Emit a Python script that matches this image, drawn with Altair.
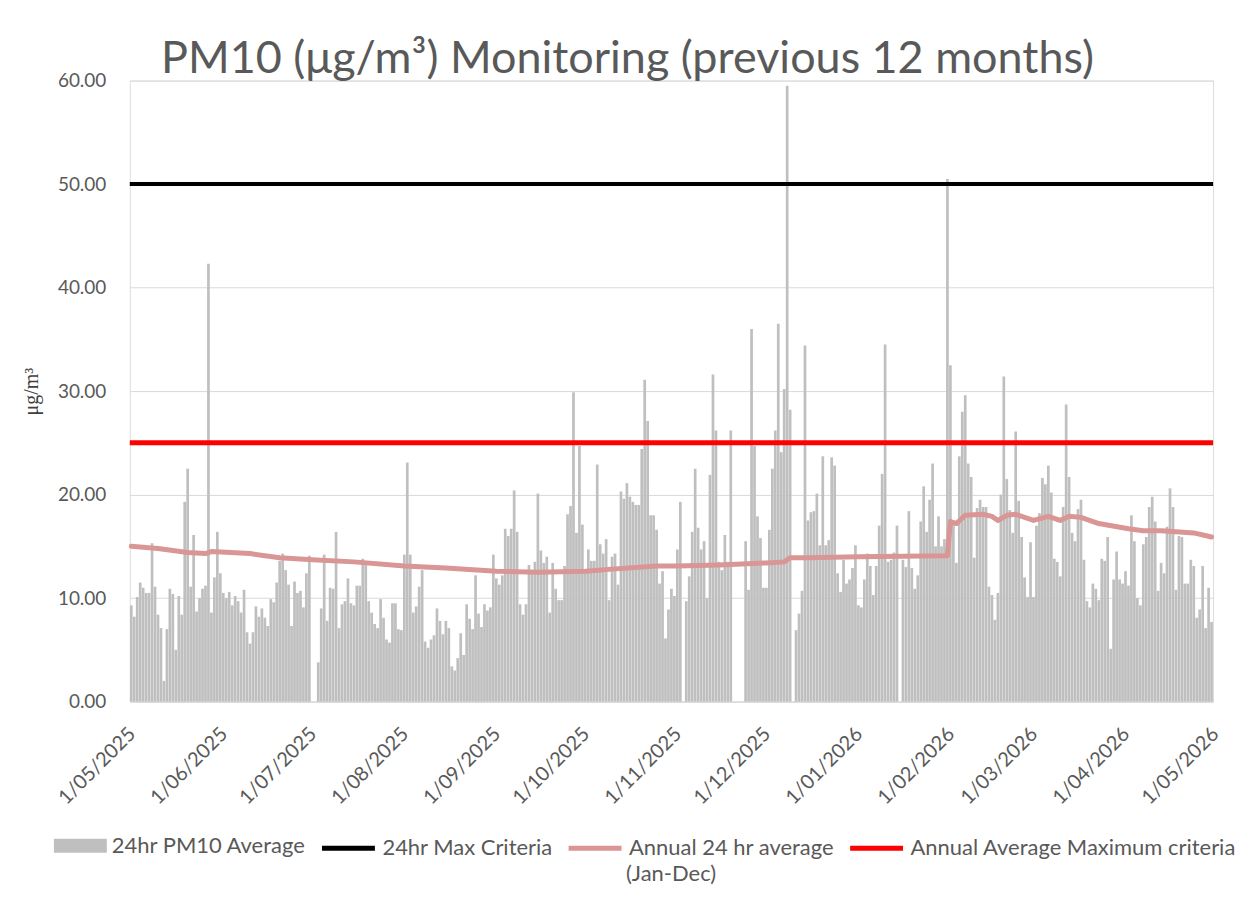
import altair as alt
import pandas as pd

# ---- daily 24hr PM10 averages (ug/m3), by month ----
may_2025 = [9.3, 8.2, 10.1, 11.5, 11.0, 10.5, 10.5, 15.3, 11.1, 8.4, 7.1, 2.0, 7.0, 10.9, 10.4, 5.0,
            10.2, 8.4, 19.3, 22.5, 11.1, 16.1, 8.7, 10.0, 10.9, 11.2, 42.3, 8.6, 12.0, 16.4, 12.4]
jun_2025 = [10.5, 10.0, 10.6, 9.3, 10.2, 9.7, 8.6, 10.8, 6.7, 5.6, 6.7, 9.2, 8.2, 9.0, 8.1, 7.3,
            9.9, 9.6, 11.5, 13.6, 14.3, 12.7, 11.3, 7.3, 11.6, 10.5, 10.7, 9.1, 12.4, 14.1]
jul_2025 = [0, 0, 3.8, 9.0, 14.2, 7.8, 11.0, 10.9, 16.4, 7.1, 9.4, 9.7, 11.9, 9.5, 9.3, 11.2,
            11.2, 13.8, 13.6, 9.7, 8.6, 7.5, 7.1, 9.9, 8.1, 6.0, 5.7, 9.5, 9.5, 7.0, 6.9]
aug_2025 = [14.2, 23.1, 14.2, 8.6, 9.2, 11.1, 12.7, 5.8, 5.2, 6.0, 6.4, 9.0, 7.8, 6.5, 7.8, 7.1,
            3.4, 3.0, 4.2, 6.6, 4.5, 9.4, 8.0, 7.0, 12.2, 8.5, 7.2, 9.4, 8.8, 9.1, 14.2]
sep_2025 = [11.9, 11.3, 12.2, 16.7, 16.0, 16.7, 20.4, 16.4, 9.4, 8.4, 9.4, 13.2, 12.7, 13.5, 20.1,
            14.6, 13.4, 14.0, 8.6, 13.4, 10.9, 9.8, 9.8, 13.1, 18.1, 18.9, 29.9, 16.3, 24.7, 17.1]
oct_2025 = [12.5, 14.7, 13.6, 13.6, 22.9, 15.2, 14.3, 15.7, 9.8, 14.0, 14.3, 11.3, 20.3, 19.6, 21.1,
            19.8, 19.3, 19.0, 19.0, 24.4, 31.1, 27.1, 18.0, 18.0, 16.6, 11.4, 12.6, 6.1, 8.9, 10.9, 10.2]
nov_2025 = [14.7, 19.3, 0, 9.7, 12.1, 16.4, 22.5, 16.8, 14.7, 15.5, 10.0, 21.9, 31.6, 26.2, 13.5,
            12.7, 16.1, 13.5, 26.2, 0, 0, 0, 0, 15.5, 10.8, 36.0, 24.7, 17.9, 15.8, 11.0]
dec_2025 = [11.0, 16.6, 22.5, 26.2, 36.5, 24.1, 30.2, 59.5, 28.2, 0, 6.9, 8.5, 10.7, 34.4, 17.5,
            18.3, 18.4, 20.1, 15.1, 23.7, 15.1, 15.6, 23.6, 22.8, 12.4, 10.6, 13.7, 11.4, 11.8, 12.9, 15.1]
jan_2026 = [9.3, 9.1, 11.8, 14.3, 13.1, 10.3, 13.1, 17.0, 22.0, 34.5, 13.5, 13.7, 14.4, 17.0, 0,
            13.7, 13.0, 18.4, 12.9, 10.9, 12.2, 17.4, 20.8, 16.4, 19.5, 23.0, 15.0, 17.9, 15.0, 15.7, 50.5]
feb_2026 = [32.5, 17.5, 13.4, 23.7, 28.0, 29.6, 23.0, 21.7, 13.9, 18.7, 19.5, 18.8, 18.8, 11.1,
            10.3, 7.9, 10.5, 20.0, 31.4, 21.5, 18.5, 16.3, 26.1, 19.4, 15.9, 12.0, 10.1, 15.4]
mar_2026 = [10.1, 17.0, 18.2, 21.6, 21.0, 22.8, 20.2, 13.8, 13.5, 12.1, 18.8, 28.7, 21.7, 16.3,
            15.5, 18.6, 19.5, 13.7, 9.7, 9.1, 11.4, 10.9, 9.8, 13.8, 13.6, 15.9, 5.1, 11.8, 14.5, 11.8, 11.4]
apr_2026 = [12.6, 11.2, 18.0, 15.5, 10.0, 9.3, 15.2, 15.9, 18.8, 19.8, 17.4, 10.7, 13.4, 12.4, 16.9,
            20.6, 18.8, 10.8, 16.0, 15.9, 11.4, 11.4, 13.7, 13.1, 8.1, 8.9, 13.1, 7.1, 11.0, 7.7]

# ---- annual 24 hr average (Jan-Dec) line ----
avg_dates = ["2025-05-01", "2025-05-10", "2025-05-20", "2025-05-26", "2025-05-28", "2025-06-10",
             "2025-06-20", "2025-07-01", "2025-07-15", "2025-08-01", "2025-08-15", "2025-09-01",
             "2025-09-15", "2025-10-01", "2025-10-10", "2025-10-25", "2025-11-01", "2025-11-15",
             "2025-12-01", "2025-12-07", "2025-12-09", "2025-12-15", "2026-01-01", "2026-01-31",
             "2026-02-01", "2026-02-03", "2026-02-06", "2026-02-12", "2026-02-15", "2026-02-17",
             "2026-02-20", "2026-02-23", "2026-03-01", "2026-03-06", "2026-03-10", "2026-03-13",
             "2026-03-17", "2026-03-23", "2026-04-02", "2026-04-07", "2026-04-13", "2026-04-18",
             "2026-04-24", "2026-04-30"]
avg_values = [15.0, 14.8, 14.4, 14.3, 14.5, 14.3,
              13.9, 13.7, 13.5, 13.1, 12.9, 12.6,
              12.5, 12.6, 12.8, 13.1, 13.1, 13.2,
              13.4, 13.5, 13.9, 13.9, 14.0, 14.1,
              17.4, 17.2, 18.0, 18.1, 17.9, 17.5,
              18.0, 18.1, 17.5, 17.9, 17.5, 17.9,
              17.8, 17.2, 16.7, 16.5, 16.5, 16.4,
              16.3, 15.9]

# ---- series / criteria ----
S_BAR = "24hr PM10 Average"
S_MAX = "24hr Max Criteria"
S_AVG = "Annual 24 hr average (Jan-Dec)"
S_ANN = "Annual Average Maximum criteria"
AVG_LINE2 = "(Jan-Dec)"
bar_color = "#BFBFBF"
line_names = [S_MAX, S_AVG, S_ANN]
line_colors = ["#000000", "#D99694", "#FF0000"]
criteria_names = [S_MAX, S_ANN]
criteria_values = [50, 25]
criteria_widths = [4, 5]

y_ticks = [0, 10, 20, 30, 40, 50, 60]
month_ticks = [(2025, m) for m in range(5, 13)] + [(2026, m) for m in range(1, 6)]

daily = (may_2025 + jun_2025 + jul_2025 + aug_2025 + sep_2025 + oct_2025 + nov_2025 +
         dec_2025 + jan_2026 + feb_2026 + mar_2026 + apr_2026)
day_stamps = pd.date_range("2025-05-01 12:00", periods=len(daily), freq="D").strftime("%Y-%m-%dT%H:%M:%S")
bar_df = pd.DataFrame({"date": list(day_stamps), "value": daily, "series": S_BAR})
avg_df = pd.DataFrame({"date": [d + "T12:00:00" for d in avg_dates], "value": avg_values,
                       "series": S_AVG, "note": AVG_LINE2})
crit_df = pd.DataFrame({"series": criteria_names, "value": criteria_values})

FONT = "Lato"
GREY = "#595959"
LEG_FS = 22
LEG_Y = 740

x_scale = alt.Scale(domain=[alt.DateTime(year=2025, month=5, date=1),
                            alt.DateTime(year=2026, month=5, date=1)], padding=0)
y_scale = alt.Scale(domain=[0, 60], nice=False, padding=0)
fill_scale = alt.Scale(domain=[S_BAR], range=[bar_color])
stroke_scale = alt.Scale(domain=line_names, range=line_colors)

x_axis = alt.Axis(values=[alt.DateTime(year=y, month=m, date=1) for y, m in month_ticks],
                  format="%-d/%m/%Y", labelAngle=315, labelFont=FONT, labelFontSize=20,
                  labelColor=GREY, labelFlush=False, labelOverlap=False, labelPadding=22,
                  labelOffset=-5, grid=False, ticks=False, domainColor="#D9D9D9", title=None)
y_axis = alt.Axis(values=y_ticks, format=".2f", labelFont=FONT, labelFontSize=19, labelColor=GREY,
                  labelPadding=24, ticks=False, domain=False, gridColor="#D9D9D9",
                  title="μg/m³", titleFont="Liberation Serif", titleFontSize=20,
                  titleFontWeight="normal", titleColor="#404040", titlePadding=16)

fill_legend = alt.Legend(
    title=None, orient="none", legendX=-76, legendY=LEG_Y, direction="horizontal",
    symbolType="M-1,-0.264H1V0.264H-1Z", symbolSize=2809, symbolStrokeWidth=0, symbolOpacity=1,
    labelFont=FONT, labelFontSize=LEG_FS, labelColor=GREY, labelOffset=5, labelLimit=500,
)
stroke_legend = alt.Legend(
    title=None, orient="none", legendX=190, legendY=LEG_Y, direction="horizontal",
    symbolType="stroke", symbolSize=2809, symbolStrokeWidth=5, symbolOpacity=1,
    labelFont=FONT, labelFontSize=LEG_FS, labelColor=GREY, labelOffset=5, labelLimit=500,
    columnPadding=5,
    labelExpr="datum.label == 'Annual 24 hr average (Jan-Dec)' ? 'Annual 24 hr average' : datum.label",
)
note_legend = alt.Legend(
    title=None, orient="none", legendX=475, legendY=784, direction="horizontal",
    symbolType="circle", symbolSize=0, symbolStrokeWidth=0,
    labelFont=FONT, labelFontSize=LEG_FS, labelColor=GREY, labelOffset=0, labelLimit=500,
)

bars = alt.Chart(bar_df).mark_bar(width=2.7).encode(
    x=alt.X("date:T", scale=x_scale, axis=x_axis),
    y=alt.Y("value:Q", scale=y_scale, axis=y_axis),
    fill=alt.Fill("series:N", scale=fill_scale, legend=fill_legend),
)

avg_line = alt.Chart(avg_df).mark_line(strokeWidth=5, strokeCap="round", strokeJoin="round").encode(
    x=alt.X("date:T", scale=x_scale),
    y=alt.Y("value:Q", scale=y_scale),
    stroke=alt.Stroke("series:N", scale=stroke_scale, legend=stroke_legend),
    opacity=alt.Opacity("note:N", scale=alt.Scale(domain=[AVG_LINE2], range=[1]), legend=note_legend),
)

rules = alt.Chart(crit_df).mark_rule().encode(
    y=alt.Y("value:Q", scale=y_scale),
    stroke=alt.Stroke("series:N", scale=stroke_scale, legend=stroke_legend),
    strokeWidth=alt.StrokeWidth("series:N", scale=alt.Scale(domain=criteria_names, range=criteria_widths), legend=None),
)

chart = alt.layer(bars, avg_line, rules).properties(
    width=1085, height=622,
    autosize=alt.AutoSizeParams(type="none"),
    padding={"left": 122, "top": 72, "right": 30, "bottom": 190},
    title=alt.TitleParams("PM10 (μg/m³) Monitoring (previous 12 months)", font=FONT, fontSize=45,
                          fontWeight="normal", color=GREY, anchor="middle", dx=-44, dy=12, offset=2),
).configure_view(strokeWidth=0).configure(background="white")

chart.save("out.html", embed_options={"renderer": "svg", "actions": False})
